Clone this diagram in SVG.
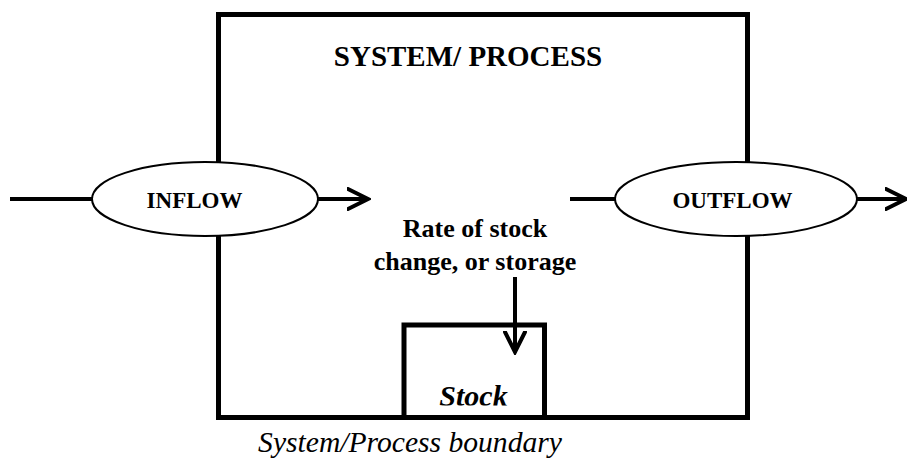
<svg xmlns="http://www.w3.org/2000/svg" width="907" height="463" viewBox="0 0 907 463">
<style>
.ln{stroke:#000;stroke-width:4;fill:none}
.box{stroke:#000;stroke-width:5;fill:#fff}
.ell{stroke:#000;stroke-width:2;fill:#fff}
.t{font-family:"Liberation Serif","Times New Roman",serif;fill:#000;text-anchor:middle}
.b{font-weight:bold}
.i{font-style:italic}
</style>
<defs>
<marker id="ah" viewBox="0 0 24 24" refX="21" refY="12" markerWidth="24" markerHeight="24" markerUnits="userSpaceOnUse" orient="auto">
<path d="M1,2 L21,12 L1,22" fill="none" stroke="#000" stroke-width="4" stroke-linecap="round" stroke-linejoin="miter"/>
</marker>
<clipPath id="stockclip"><rect x="404" y="325" width="141" height="80.5"/></clipPath>
</defs>
<g id="system">
<rect class="box" x="218.5" y="14.5" width="529" height="403"/>
<text class="t b" x="468" y="66" font-size="29">SYSTEM/ PROCESS</text>
</g>
<g id="stock">
<rect class="box" x="404" y="325" width="140.5" height="92.5" stroke-width="4.5"/>
<text class="t b i" x="473.5" y="405.5" font-size="30" clip-path="url(#stockclip)">Stock</text>
</g>
<g id="rate">
<text class="t b" x="475" y="237" font-size="26">Rate of stock</text>
<text class="t b" x="475" y="270" font-size="26">change, or storage</text>
</g>
<g id="connectors">
<line class="ln" x1="10" y1="199" x2="92" y2="199"/>
<line class="ln" x1="318" y1="199" x2="368" y2="199" marker-end="url(#ah)"/>
<line class="ln" x1="570" y1="199" x2="615" y2="199"/>
<line class="ln" x1="857" y1="199" x2="906" y2="199" marker-end="url(#ah)"/>
<line class="ln" x1="515" y1="277" x2="515" y2="352" marker-end="url(#ah)"/>
</g>
<g id="inflow">
<ellipse class="ell" cx="205" cy="199" rx="113" ry="37"/>
<text class="t b" x="194.5" y="208" font-size="23">INFLOW</text>
</g>
<g id="outflow">
<ellipse class="ell" cx="736" cy="199" rx="121" ry="37"/>
<text class="t b" x="732.5" y="208" font-size="23">OUTFLOW</text>
</g>
<g id="boundary">
<text class="t i" x="410" y="452" font-size="29.6">System/Process boundary</text>
</g>
</svg>
